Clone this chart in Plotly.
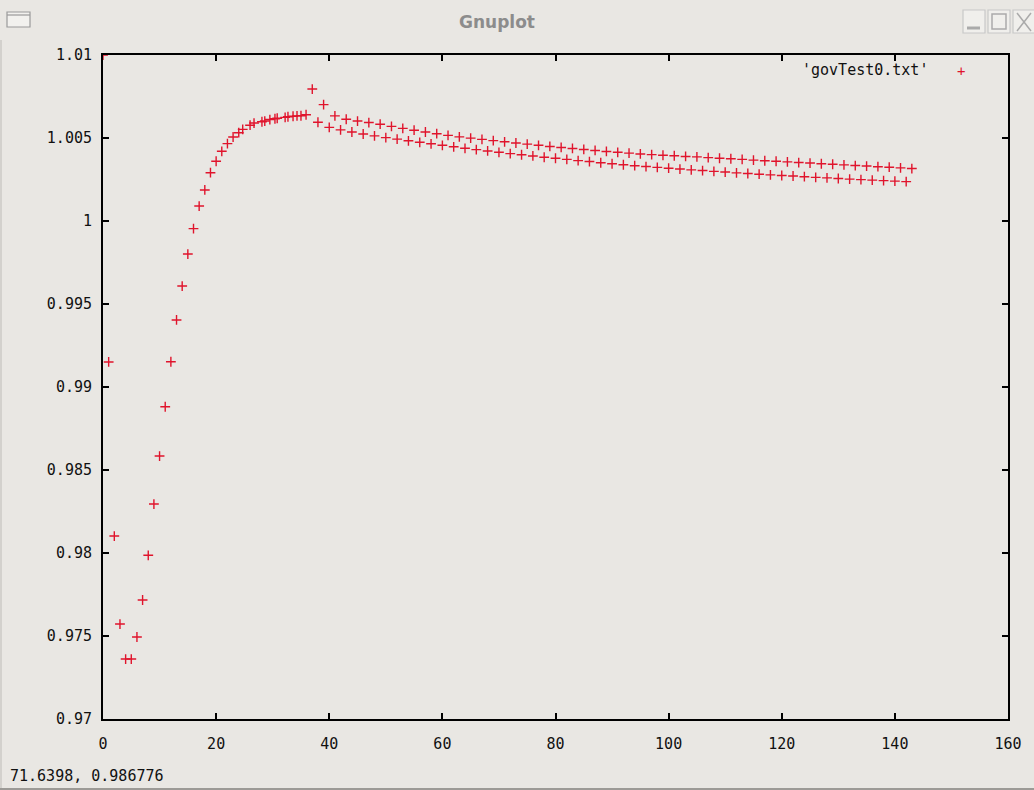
import plotly.graph_objects as go

# ---- data ----
x_rise = [0, 1, 2, 3, 4, 5, 6, 7, 8, 9, 10, 11, 12, 13, 14, 15, 16, 17, 18, 19, 20, 21, 22, 23]
y_rise = [1.01, 0.99151, 0.98102, 0.97572, 0.97361, 0.97361, 0.97494, 0.97717, 0.97986, 0.98295,
          0.98584, 0.98881, 0.99152, 0.99404, 0.99608, 0.99801, 0.99954, 1.0009, 1.00187, 1.00291,
          1.0036, 1.0042, 1.00466, 1.00506]

x_plateau = [24, 24.7, 26.0, 26.7, 28.1, 28.6, 29.5, 30.4, 30.8, 32.2, 32.7, 33.6, 34.3, 35.0, 35.9]
y_plateau = [1.00532, 1.00552, 1.00577, 1.0059, 1.00598, 1.00602, 1.00611, 1.00616, 1.00619,
             1.00624, 1.00628, 1.00631, 1.00633, 1.00634, 1.0064]

x_upper = list(range(37, 144, 2))
y_upper = [1.00795, 1.00701, 1.00633, 1.00613, 1.00602, 1.00593, 1.00583, 1.0057, 1.00558, 1.00547,
           1.00536, 1.00526, 1.00516, 1.00507, 1.00499, 1.00492, 1.00484, 1.00477, 1.0047, 1.00463,
           1.00456, 1.00449, 1.00443, 1.00437, 1.00431, 1.00425, 1.00419, 1.00414, 1.00409, 1.00404,
           1.004, 1.00396, 1.00393, 1.00389, 1.00386, 1.00382, 1.00378, 1.00375, 1.00371, 1.00367,
           1.00363, 1.0036, 1.00356, 1.00352, 1.00349, 1.00345, 1.00342, 1.00338, 1.00334, 1.00331,
           1.00327, 1.00324, 1.0032, 1.00316]

x_lower = list(range(38, 143, 2))
y_lower = [1.00595, 1.00564, 1.00549, 1.00536, 1.00524, 1.00513, 1.00502, 1.00493, 1.00483, 1.00474,
           1.00465, 1.00456, 1.00447, 1.00438, 1.0043, 1.00422, 1.00414, 1.00406, 1.00399, 1.00392,
           1.00384, 1.00378, 1.00371, 1.00364, 1.00358, 1.00351, 1.00345, 1.00339, 1.00333, 1.00328,
           1.00323, 1.00318, 1.00313, 1.00308, 1.00304, 1.00299, 1.00295, 1.0029, 1.00286, 1.00282,
           1.00278, 1.00274, 1.00271, 1.00267, 1.00263, 1.0026, 1.00256, 1.00252, 1.00249, 1.00246,
           1.00243, 1.0024, 1.00237]

x_ticks = [0, 20, 40, 60, 80, 100, 120, 140, 160]
y_ticks = [0.97, 0.975, 0.98, 0.985, 0.99, 0.995, 1.0, 1.005, 1.01]
y_tick_text = ["0.97", "0.975", "0.98", "0.985", "0.99", "0.995", "1", "1.005", "1.01"]
series_name = "'govTest0.txt'"
status_text = "71.6398, 0.986776"
window_title = "Gnuplot"

# merge points in file order
xs = x_rise + x_plateau
ys = y_rise + y_plateau
pairs = sorted(list(zip(x_upper, y_upper)) + list(zip(x_lower, y_lower)))
xs += [p[0] for p in pairs]
ys += [p[1] for p in pairs]

W, H = 1034, 790
L, R, T, B = 103, 26, 55, 71
PW, PH = W - L - R, H - T - B
RED = "#e0142c"
BG = "#e9e7e3"


def px(xp):
    return (xp - L) / PW


def py(yp):
    return 1 - (yp - T) / PH


fig = go.Figure()
fig.add_trace(go.Scatter(
    x=xs, y=ys, mode="markers", cliponaxis=True, showlegend=False,
    marker=dict(symbol="cross-thin", size=7, color=RED, line=dict(width=1.4, color=RED)),
))

font_main = dict(family="DejaVu Sans Mono", size=15, color="#111111")

axis_common = dict(
    showline=True, linecolor="black", linewidth=2, mirror="ticks",
    ticks="inside", ticklen=6, tickwidth=2, tickcolor="black",
    showgrid=False, zeroline=False, tickfont=font_main,
)

fig.update_layout(
    width=W, height=H,
    margin=dict(l=L, r=R, t=T, b=B, pad=0),
    paper_bgcolor=BG, plot_bgcolor=BG,
    xaxis=dict(range=[0, 160], tickvals=x_ticks, ticklabelstandoff=10, **axis_common),
    yaxis=dict(range=[0.97, 1.01], tickvals=y_ticks, ticktext=y_tick_text,
               ticklabelstandoff=6, **axis_common),
    showlegend=False,
)

ann = []
# legend text and key
ann.append(dict(xref="paper", yref="paper", x=px(930), y=py(70), text=series_name,
                showarrow=False, xanchor="right", yanchor="middle", font=font_main))
ann.append(dict(xref="paper", yref="paper", x=px(961), y=py(71), text="+",
                showarrow=False, xanchor="center", yanchor="middle",
                font=dict(family="DejaVu Sans Mono", size=14, color=RED)))
# window title
ann.append(dict(xref="paper", yref="paper", x=px(497), y=py(22), text="<b>" + window_title + "</b>",
                showarrow=False, xanchor="center", yanchor="middle",
                font=dict(family="DejaVu Sans", size=17, color="#8c8c8c")))
# status line
ann.append(dict(xref="paper", yref="paper", x=px(8), y=py(776), text=status_text,
                showarrow=False, xanchor="left", yanchor="middle", font=font_main))
fig.update_layout(annotations=ann)

shapes = []
# window chrome: left icon
shapes.append(dict(type="rect", xref="paper", yref="paper", x0=px(7), x1=px(30), y0=py(12), y1=py(27),
                   line=dict(color="#9a9a9a", width=1.2), fillcolor="#f2f1ee"))
shapes.append(dict(type="line", xref="paper", yref="paper", x0=px(7), x1=px(30), y0=py(15), y1=py(15),
                   line=dict(color="#9a9a9a", width=1.2)))
# right buttons
shapes.append(dict(type="rect", xref="paper", yref="paper", x0=px(963), x1=px(985), y0=py(10), y1=py(33),
                   line=dict(color="#c8c8c8", width=1.2), fillcolor="#f0efec"))
shapes.append(dict(type="line", xref="paper", yref="paper", x0=px(967), x1=px(980), y0=py(28), y1=py(28),
                   line=dict(color="#aaaaaa", width=3)))
shapes.append(dict(type="rect", xref="paper", yref="paper", x0=px(988), x1=px(1010), y0=py(10), y1=py(33),
                   line=dict(color="#c8c8c8", width=1.2), fillcolor="#f0efec"))
shapes.append(dict(type="rect", xref="paper", yref="paper", x0=px(992), x1=px(1006), y0=py(14), y1=py(29),
                   line=dict(color="#aaaaaa", width=1.5)))
shapes.append(dict(type="rect", xref="paper", yref="paper", x0=px(1013), x1=px(1040), y0=py(10), y1=py(33),
                   line=dict(color="#c8c8c8", width=1.2), fillcolor="#f0efec"))
shapes.append(dict(type="line", xref="paper", yref="paper", x0=px(1017), x1=px(1031), y0=py(13), y1=py(31),
                   line=dict(color="#aaaaaa", width=1.5)))
shapes.append(dict(type="line", xref="paper", yref="paper", x0=px(1031), x1=px(1017), y0=py(13), y1=py(31),
                   line=dict(color="#aaaaaa", width=1.5)))
# outer window border lines
shapes.append(dict(type="line", xref="paper", yref="paper", x0=px(1), x1=px(1), y0=py(40), y1=py(789),
                   line=dict(color="#bdbbb7", width=1)))
shapes.append(dict(type="line", xref="paper", yref="paper", x0=px(0), x1=px(1034), y0=py(789), y1=py(789),
                   line=dict(color="#9c9a96", width=2)))
fig.update_layout(shapes=shapes)

fig.write_html(
    "out.html",
    config={"displayModeBar": False},
    post_script="document.body.style.margin='0';document.body.style.overflow='hidden';",
)
